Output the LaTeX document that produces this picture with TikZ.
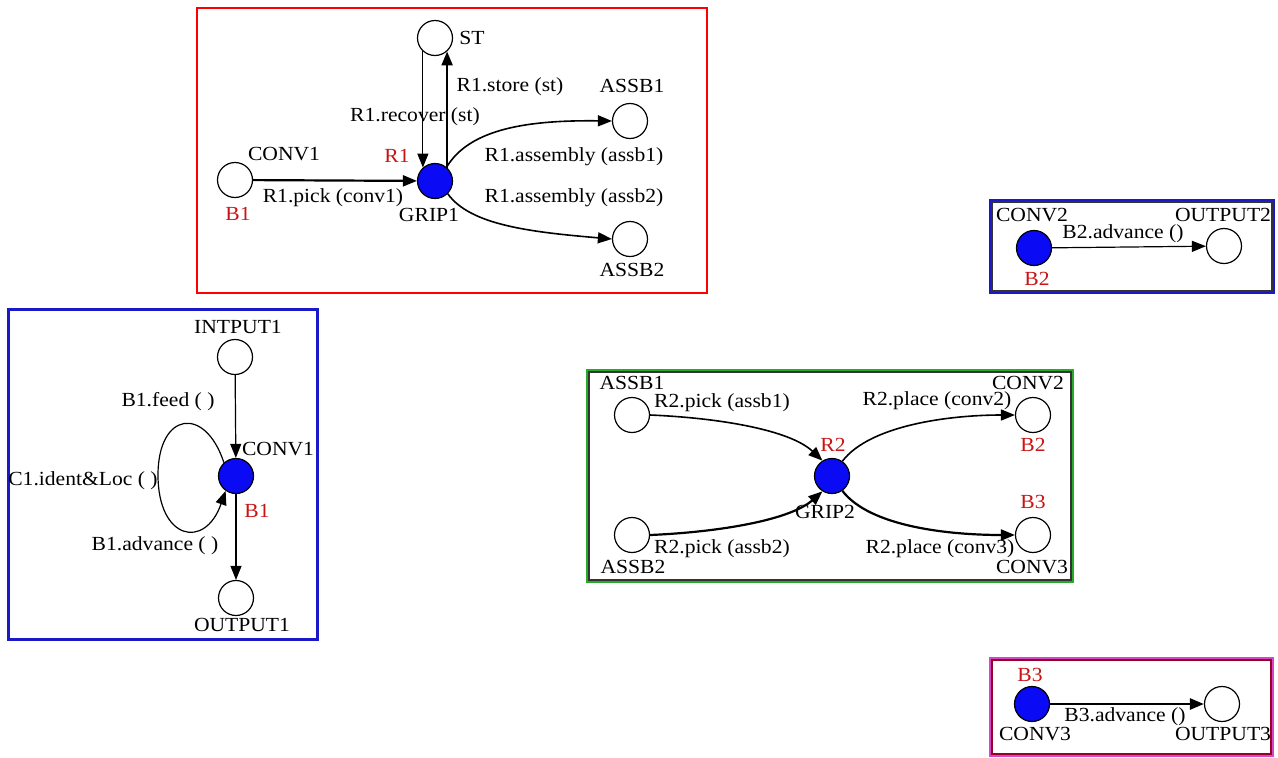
\documentclass[tikz,border=0pt]{standalone}
\usepackage{fontspec}
\setmainfont{Liberation Serif}[FakeStretch=1.08]
\usetikzlibrary{arrows.meta}
\definecolor{nblue}{RGB}{10,10,245}
\definecolor{lred}{RGB}{200,20,20}
\definecolor{bxblue}{RGB}{25,25,200}
\definecolor{bxgreen}{RGB}{40,170,40}
\definecolor{bxmag}{RGB}{215,70,200}
\definecolor{bxdred}{RGB}{150,0,40}
\tikzset{
  st/.style={circle,draw=black,line width=1.2pt,fill=white,minimum size=35pt,inner sep=0pt},
  act/.style={st,fill=nblue},
  lbl/.style={font=\fontsize{20}{24}\selectfont,inner sep=0pt,text height=0.66em,text depth=0pt},
  rl/.style={lbl,text=lred},
  e/.style={-{Triangle[length=14pt,width=11pt]},line width=1.2pt},
  ethick/.style={e,line width=2.2pt},
  emid/.style={e,line width=1.6pt}
}
\begin{document}
\begin{tikzpicture}[x=1pt,y=-1pt]
\useasboundingbox (0,0) rectangle (1278,758);
% boxes
\draw[red,line width=2.5pt] (197,8) rectangle (707,293);
\draw[bxblue,line width=3pt] (8,309) rectangle (317,639);
\draw[bxgreen,line width=1.5pt] (587,370) rectangle (1073,582);
\draw[black!80,line width=1.5pt] (589,372) rectangle (1071,580);
\draw[bxblue,line width=1.5pt] (990,200) rectangle (1274,293);
\draw[black!80,line width=1.3pt] (992,202) rectangle (1272,291);
\draw[bxmag,line width=1.5pt] (990,658) rectangle (1273,756);
\draw[bxdred,line width=1.3pt] (992,660) rectangle (1271,754);

% ---- red box: R1 ----
\node[st] (st) at (435,38) {};
\node[st] (conv1a) at (235,180) {};
\node[act] (grip1) at (435,181) {};
\node[st] (assb1a) at (630,121) {};
\node[st] (assb2a) at (630,239) {};
\node[lbl] (tST) at (472,41) {ST};
\node[lbl] (tstore) at (510,88) {R1.store (st)};
\node[lbl] (tassb1a) at (632,89) {ASSB1};
\node[lbl] (trecover) at (415,118) {R1.recover (st)};
\node[lbl] (tconv1a) at (284,157) {CONV1};
\node[rl] (tR1) at (397,159) {R1};
\node[lbl] (tasm1) at (574,158) {R1.assembly (assb1)};
\node[lbl] (tpick1) at (333,199) {R1.pick (conv1)};
\node[lbl] (tasm2) at (574,199) {R1.assembly (assb2)};
\node[rl] (tB1a) at (238,217) {B1};
\node[lbl] (tgrip1) at (429,218) {GRIP1};
\node[lbl] (tassb2a) at (632,273) {ASSB2};
\draw[e] (st.228) -- (grip1.132);
\draw[ethick] (grip1.48) -- (st.312);
\draw[ethick] (conv1a) -- (grip1);
\draw[emid] (grip1.50) .. controls (470,128) and (530,120) .. (assb1a.west);
\draw[emid] (grip1.-45) .. controls (470,225) and (530,232) .. (assb2a.west);

% ---- left blue box: B1 ----
\node[st] (input1) at (235,357) {};
\node[act] (conv1b) at (236,476) {};
\node[st] (output1) at (236,598) {};
\node[lbl] (tinput1) at (238,330) {INTPUT1};
\node[lbl] (tconv1b) at (278,452) {CONV1};
\node[rl] (tB1b) at (257,514) {B1};
\node[lbl] (toutput1) at (242,628) {OUTPUT1};
\node[lbl] (tfeed) at (168,403) {B1.feed ( )};
\node[lbl] (tident) at (83,482) {C1.ident\&Loc ( )};
\node[lbl] (tadv1) at (155,547) {B1.advance ( )};
\draw[e] (input1) -- (conv1b);
\draw[e] (conv1b) -- (output1);
\draw[e] (conv1b.132) .. controls (205,405) and (158,412) .. (158,475)
  .. controls (158,540) and (205,550) .. (conv1b.235);

% ---- green box: R2 ----
\node[st] (assb1b) at (632,415) {};
\node[act] (grip2) at (832,476) {};
\node[st] (conv2b) at (1033,415) {};
\node[st] (assb2b) at (632,535) {};
\node[st] (conv3b) at (1033,535) {};
\node[lbl] (tassb1b) at (632,386) {ASSB1};
\node[lbl] (tpick2a) at (722,404) {R2.pick (assb1)};
\node[rl] (tR2) at (833,448) {R2};
\node[lbl] (tgrip2) at (825,515) {GRIP2};
\node[lbl] (tconv2b) at (1028,386) {CONV2};
\node[lbl] (tplace2) at (937,402) {R2.place (conv2)};
\node[rl] (tB2b) at (1033,448) {B2};
\node[lbl] (tassb2b) at (633,570) {ASSB2};
\node[lbl] (tpick2b) at (722,550) {R2.pick (assb2)};
\node[rl] (tB3b) at (1033,505) {B3};
\node[lbl] (tplace3) at (940,550) {R2.place (conv3)};
\node[lbl] (tconv3b) at (1032,570) {CONV3};
\draw[emid] (assb1b.east) .. controls (720,418) and (790,430) .. (grip2.122);
\draw[ethick] (assb2b.east) .. controls (720,532) and (790,520) .. (grip2.238);
\draw[emid] (grip2.55) .. controls (870,425) and (950,415) .. (conv2b.west);
\draw[ethick] (grip2.-55) .. controls (870,527) and (950,535) .. (conv3b.west);

% ---- top right box: B2 ----
\node[act] (conv2c) at (1034,248) {};
\node[st] (output2) at (1224,246) {};
\node[lbl] (tconv2c) at (1032,218) {CONV2};
\node[lbl] (toutput2) at (1223,218) {OUTPUT2};
\node[lbl] (tadv2) at (1123,235) {B2.advance ()};
\node[rl] (tB2c) at (1037,282) {B2};
\draw[e] (conv2c) -- (output2);

% ---- bottom right box: B3 ----
\node[act] (conv3c) at (1032,704) {};
\node[st] (output3) at (1222,704) {};
\node[rl] (tB3c) at (1030,678) {B3};
\node[lbl] (tconv3c) at (1035,737) {CONV3};
\node[lbl] (toutput3) at (1223,737) {OUTPUT3};
\node[lbl] (tadv3) at (1125,718) {B3.advance ()};
\draw[e,line width=2.6pt] (conv3c) -- (output3);
\end{tikzpicture}
\end{document}
